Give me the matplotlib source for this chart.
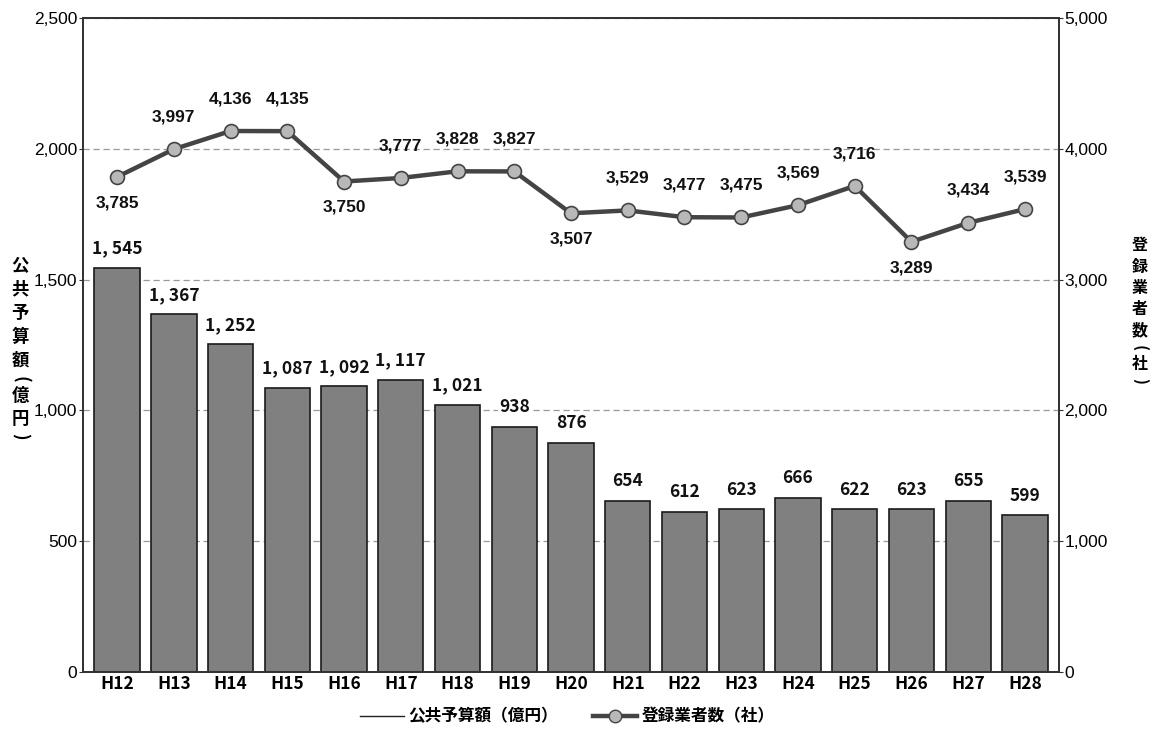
import numpy as np
import matplotlib.pyplot as plt
from matplotlib.lines import Line2D

plt.rcParams['font.family'] = ['Noto Sans CJK JP', 'DejaVu Sans']

years = ['H12', 'H13', 'H14', 'H15', 'H16', 'H17', 'H18', 'H19', 'H20',
         'H21', 'H22', 'H23', 'H24', 'H25', 'H26', 'H27', 'H28']
budget = [1545, 1367, 1252, 1087, 1092, 1117, 1021, 938, 876,
          654, 612, 623, 666, 622, 623, 655, 599]
firms = [3785, 3997, 4136, 4135, 3750, 3777, 3828, 3827, 3507,
         3529, 3477, 3475, 3569, 3716, 3289, 3434, 3539]
# which firm-count labels sit under their marker
below = ['H12', 'H16', 'H20', 'H26']

W, H = 1158, 729
fig = plt.figure(figsize=(W / 100, H / 100), dpi=100)
ax = fig.add_axes([0.0717, 0.0782, 0.8428, 0.8971])
x = np.arange(len(years))

ax.bar(x, budget, width=0.8, color='#808080', edgecolor='#1a1a1a',
       linewidth=1.2, zorder=2)
ax.set_xlim(-0.6, len(years) - 0.4)
ax.set_ylim(0, 2500)
ax.set_yticks([0, 500, 1000, 1500, 2000, 2500])
ax.set_yticklabels(['0', '500', '1,000', '1,500', '2,000', '2,500'],
                   family='Liberation Sans', fontsize=12.5)
ax.set_xticks(x)
ax.set_xticklabels(years, fontsize=12.5, fontweight='bold')
ax.tick_params(axis='x', length=0, pad=2)
ax.tick_params(axis='y', length=3, pad=1, color='#333333')
ax.yaxis.grid(True, linestyle=(0, (5, 3)), color='#999999', linewidth=0.9, zorder=0)
ax.set_axisbelow(True)
for s in ax.spines.values():
    s.set_color('#333333')
    s.set_linewidth(1.3)

for xi, v in zip(x, budget):
    ax.text(xi, v + 40, f'{v:,}'.replace(',', ', '), ha='center', va='bottom',
            fontsize=12.5, fontweight='bold', color='#111111', zorder=4,
            bbox=dict(facecolor='white', edgecolor='none', pad=1))

ax2 = ax.twinx()
ax2.set_ylim(0, 5000)
ax2.set_yticks([0, 1000, 2000, 3000, 4000, 5000])
ax2.set_yticklabels(['0', '1,000', '2,000', '3,000', '4,000', '5,000'],
                    family='Liberation Sans', fontsize=12.5)
ax2.tick_params(axis='y', length=3, pad=1, color='#333333')
for s in ax2.spines.values():
    s.set_color('#333333')
    s.set_linewidth(1.3)
ax2.plot(x, firms, color='#444444', linewidth=3.2, marker='o', markersize=10,
         markerfacecolor='#b8b8b8', markeredgecolor='#444444',
         markeredgewidth=1.2, zorder=3)
for xi, yr, v in zip(x, years, firms):
    if yr in below:
        ax2.text(xi, v - 140, f'{v:,}', ha='center', va='top', fontsize=12.5,
                 family='Liberation Sans', fontweight='bold', color='#111111')
    else:
        ax2.text(xi, v + 190, f'{v:,}', ha='center', va='bottom', fontsize=12.5,
                 family='Liberation Sans', fontweight='bold', color='#111111')


def vertical_title(chars, xs, ys, size):
    # one glyph per position; brackets turned to sit as vertical forms
    for ch, yp in zip(chars, ys):
        rot = -90 if ch in '()' else 0
        fig.text(xs / W, 1 - yp / H, ch, ha='center', va='center',
                 fontsize=size, fontweight='bold', rotation=rot)


vertical_title('公共予算額(億円)', 20,
               [265, 289, 313, 337, 361, 379, 396, 419, 436], 12.5)
vertical_title('登録業者数(社)', 1140,
               [245, 267, 288, 309, 330, 348, 364, 381], 11.5)

handles = [
    Line2D([], [], color='#222222', linewidth=1.0),
    Line2D([], [], color='#444444', linewidth=3.2, marker='o', markersize=9,
           markerfacecolor='#b8b8b8', markeredgecolor='#444444'),
]
fig.legend(handles, ['公共予算額（億円）', '登録業者数（社）'], loc='center',
           bbox_to_anchor=(0.49, 0.017), ncol=2, frameon=False,
           prop={'size': 12, 'weight': 'bold'}, handlelength=2.6,
           handletextpad=0.3, columnspacing=2.1)

fig.savefig('out.png', dpi=100)
